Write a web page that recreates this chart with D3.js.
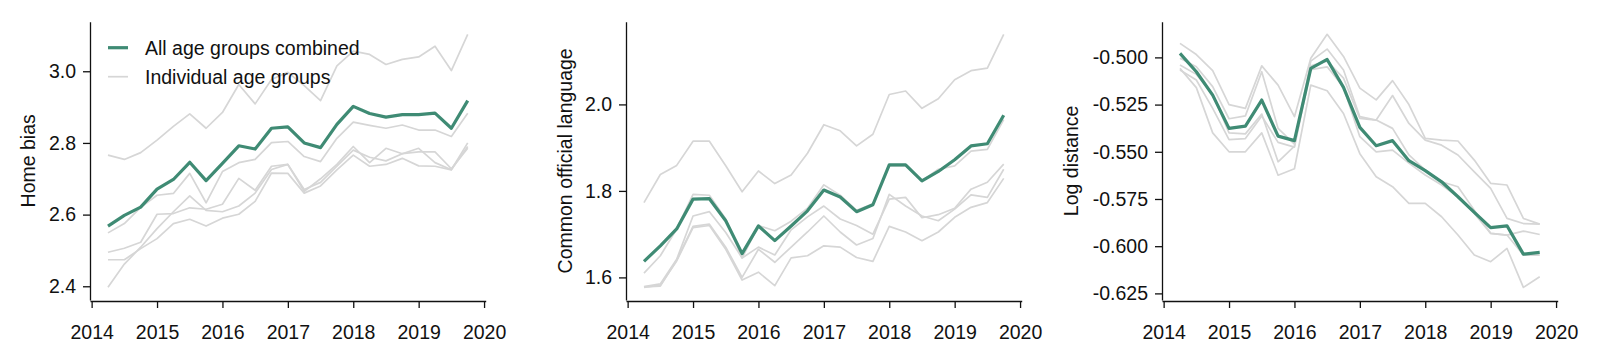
<!DOCTYPE html>
<html>
<head>
<meta charset="utf-8">
<script src="https://cdn.jsdelivr.net/npm/d3@7"></script>
<style>
    body { margin: 0; background: #fff; }
    svg { display: block; font-family: "Liberation Sans", Arial, Helvetica, sans-serif; }
    .axis text { font-size: 19.5px; fill: #111; }
    .axis path, .axis line { stroke: #111; stroke-width: 1.3; }
    .axis-label { font-size: 19.5px; fill: #111; }
    .legend text { font-size: 19.5px; fill: #111; }
</style>
</head>
<body>
<svg id="chart" width="1600" height="364"></svg>
<script>
(function () {
    'use strict';

    // Quarterly observations
    const quarters = [2014.25, 2014.5, 2014.75, 2015, 2015.25, 2015.5, 2015.75, 2016,
        2016.25, 2016.5, 2016.75, 2017, 2017.25, 2017.5, 2017.75, 2018,
        2018.25, 2018.5, 2018.75, 2019, 2019.25, 2019.5, 2019.75];
    const xTicks = [2014, 2015, 2016, 2017, 2018, 2019, 2020];

    // Panel 1: home bias
    const homeBiasAll = [2.568, 2.598, 2.621, 2.671, 2.698, 2.746, 2.695, 2.743, 2.792, 2.783, 2.841, 2.845,
        2.800, 2.787, 2.852, 2.902, 2.882, 2.872, 2.879, 2.879, 2.883, 2.841, 2.918];
    const homeBiasGroups = [
        [2.766, 2.754, 2.773, 2.808, 2.846, 2.881, 2.841, 2.885, 2.963, 2.909, 2.977, 2.997,
            2.960, 2.918, 3.015, 3.056, 3.047, 3.019, 3.033, 3.040, 3.070, 3.002, 3.103],
        [2.549, 2.575, 2.620, 2.654, 2.659, 2.715, 2.633, 2.720, 2.745, 2.754, 2.801, 2.804,
            2.762, 2.748, 2.813, 2.858, 2.849, 2.841, 2.850, 2.836, 2.836, 2.818, 2.883],
        [2.495, 2.506, 2.523, 2.601, 2.603, 2.619, 2.615, 2.629, 2.701, 2.668, 2.735, 2.740,
            2.665, 2.700, 2.740, 2.790, 2.745, 2.785, 2.770, 2.785, 2.745, 2.725, 2.800],
        [2.474, 2.474, 2.505, 2.533, 2.575, 2.587, 2.568, 2.590, 2.601, 2.637, 2.716, 2.715,
            2.660, 2.680, 2.725, 2.766, 2.735, 2.740, 2.757, 2.736, 2.735, 2.725, 2.790],
        [2.397, 2.462, 2.509, 2.561, 2.608, 2.652, 2.612, 2.608, 2.624, 2.660, 2.726, 2.740,
            2.670, 2.690, 2.735, 2.780, 2.760, 2.750, 2.770, 2.775, 2.775, 2.728, 2.785]
    ];
    const homeBiasTicks = [2.4, 2.6, 2.8, 3.0];

    // Panel 2: common official language
    const languageAll = [1.637, 1.673, 1.712, 1.781, 1.782, 1.731, 1.655, 1.719, 1.685, 1.719, 1.754, 1.802,
        1.786, 1.752, 1.768, 1.860, 1.860, 1.823, 1.845, 1.872, 1.904, 1.909, 1.975];
    const languageGroups = [
        [1.773, 1.838, 1.859, 1.915, 1.915, 1.858, 1.798, 1.846, 1.817, 1.837, 1.887, 1.953,
            1.939, 1.904, 1.931, 2.023, 2.031, 1.991, 2.013, 2.057, 2.078, 2.084, 2.162],
        [1.610, 1.650, 1.712, 1.792, 1.790, 1.735, 1.645, 1.720, 1.708, 1.730, 1.760, 1.814,
            1.790, 1.755, 1.770, 1.858, 1.858, 1.823, 1.850, 1.858, 1.892, 1.896, 1.965],
        [1.579, 1.585, 1.642, 1.742, 1.752, 1.704, 1.645, 1.670, 1.652, 1.710, 1.740, 1.765,
            1.735, 1.720, 1.700, 1.781, 1.785, 1.738, 1.745, 1.760, 1.804, 1.820, 1.862],
        [1.578, 1.580, 1.640, 1.718, 1.723, 1.670, 1.600, 1.665, 1.635, 1.670, 1.705, 1.742,
            1.705, 1.675, 1.690, 1.792, 1.765, 1.742, 1.731, 1.758, 1.791, 1.785, 1.850],
        [1.577, 1.582, 1.638, 1.715, 1.720, 1.665, 1.594, 1.612, 1.581, 1.645, 1.650, 1.673,
            1.670, 1.646, 1.637, 1.718, 1.705, 1.685, 1.705, 1.739, 1.762, 1.773, 1.829]
    ];
    const languageTicks = [1.6, 1.8, 2.0];

    // Panel 3: log distance
    const distanceAll = [-0.4979, -0.5076, -0.5200, -0.5376, -0.5364, -0.5226, -0.5417, -0.5441,
        -0.5058, -0.5011, -0.5159, -0.5371, -0.5468, -0.5441, -0.5547, -0.5600,
        -0.5659, -0.5738, -0.5821, -0.5902, -0.5892, -0.6042, -0.6033];
    const distanceGroups = [
        [-0.4926, -0.4985, -0.5070, -0.5250, -0.5270, -0.5045, -0.5147, -0.5314, -0.5005, -0.4878, -0.4995, -0.5163,
            -0.5225, -0.5123, -0.5250, -0.5429, -0.5438, -0.5443, -0.5544, -0.5667, -0.5676, -0.5853, -0.5883],
        [-0.5005, -0.5050, -0.5155, -0.5325, -0.5310, -0.5076, -0.5376, -0.5460, -0.5020, -0.4956, -0.5067, -0.5314,
            -0.5332, -0.5202, -0.5350, -0.5438, -0.5465, -0.5517, -0.5606, -0.5694, -0.5853, -0.5880, -0.5883],
        [-0.5040, -0.5090, -0.5195, -0.5400, -0.5405, -0.5300, -0.5553, -0.5470, -0.5045, -0.5020, -0.5110, -0.5323,
            -0.5332, -0.5376, -0.5517, -0.5597, -0.5659, -0.5685, -0.5809, -0.5932, -0.5941, -0.5920, -0.5938],
        [-0.5067, -0.5120, -0.5270, -0.5436, -0.5430, -0.5310, -0.5450, -0.5475, -0.5065, -0.5050, -0.5158, -0.5420,
            -0.5500, -0.5491, -0.5560, -0.5623, -0.5676, -0.5738, -0.5826, -0.5932, -0.5941, -0.6047, -0.6047],
        [-0.5058, -0.5160, -0.5400, -0.5500, -0.5500, -0.5400, -0.5624, -0.5590, -0.5147, -0.5177, -0.5297, -0.5510,
            -0.5632, -0.5685, -0.5773, -0.5773, -0.5844, -0.5941, -0.6047, -0.6082, -0.6012, -0.6218, -0.6162]
    ];
    const distanceTicks = [-0.625, -0.600, -0.575, -0.550, -0.525, -0.500];

    const legendLabels = ['All age groups combined', 'Individual age groups'];

    // Styling / layout
    const COLORS = { all: '#3f8b74', group: '#d6d6d6' };
    const PLOT = { width: 395.7, top: 21.7, bottom: 300 };
    const minus = s => s.replace('\u2212', '-');

    const panels = [
        { label: 'Home bias', all: homeBiasAll, groups: homeBiasGroups, ticks: homeBiasTicks,
            fmt: d3.format('.1f'), left: 90, labelX: -62, legend: true },
        { label: 'Common official language', all: languageAll, groups: languageGroups, ticks: languageTicks,
            fmt: d3.format('.1f'), left: 626, labelX: -61, legend: false },
        { label: 'Log distance', all: distanceAll, groups: distanceGroups, ticks: distanceTicks,
            fmt: d => minus(d3.format('.3f')(d)), left: 1162, labelX: -91, legend: false }
    ];

    const svg = d3.select('#chart');

    panels.forEach(p => {
        const g = svg.append('g').attr('transform', `translate(${p.left},0)`);

        // Scales with matplotlib-like 5% margins
        const xPad = (quarters[quarters.length - 1] - quarters[0]) * 0.05;
        const x = d3.scaleLinear()
            .domain([quarters[0] - xPad, quarters[quarters.length - 1] + xPad])
            .range([0, PLOT.width]);

        const [lo, hi] = d3.extent([p.all, ...p.groups].flat());
        const yPad = (hi - lo) * 0.05;
        const y = d3.scaleLinear()
            .domain([lo - yPad, hi + yPad])
            .range([PLOT.bottom, PLOT.top]);

        const line = d3.line()
            .x((d, i) => x(quarters[i]))
            .y(d => y(d));

        // Individual age groups
        g.append('g')
            .selectAll('path')
            .data(p.groups)
            .enter()
            .append('path')
            .attr('d', line)
            .attr('fill', 'none')
            .attr('stroke', COLORS.group)
            .attr('stroke-width', 1.7)
            .attr('stroke-linejoin', 'round');

        // All groups combined
        g.append('path')
            .datum(p.all)
            .attr('d', line)
            .attr('fill', 'none')
            .attr('stroke', COLORS.all)
            .attr('stroke-width', 3.2)
            .attr('stroke-linejoin', 'round');

        // Axes
        g.append('g')
            .attr('class', 'axis')
            .attr('transform', `translate(0,${PLOT.bottom + 1})`)
            .call(d3.axisBottom(x).tickValues(xTicks).tickFormat(d3.format('d'))
                .tickSize(7).tickSizeOuter(0).tickPadding(17));

        g.append('g')
            .attr('class', 'axis')
            .call(d3.axisLeft(y).tickValues(p.ticks).tickFormat(p.fmt)
                .tickSize(7).tickSizeOuter(0).tickPadding(7));

        g.selectAll('.axis text').attr('font-family', null);

        // Y label
        g.append('text')
            .attr('class', 'axis-label')
            .attr('transform', 'rotate(-90)')
            .attr('x', -(PLOT.top + PLOT.bottom) / 2)
            .attr('y', p.labelX)
            .attr('dy', '0.35em')
            .attr('text-anchor', 'middle')
            .text(p.label);

        // Legend
        if (p.legend) {
            const lg = g.append('g').attr('class', 'legend');
            const items = [
                { text: legendLabels[0], color: COLORS.all, width: 3.2 },
                { text: legendLabels[1], color: COLORS.group, width: 1.7 }
            ];
            items.forEach((it, i) => {
                const yy = 47.7 + i * 29;
                lg.append('line')
                    .attr('x1', 18).attr('x2', 38)
                    .attr('y1', yy).attr('y2', yy)
                    .attr('stroke', it.color)
                    .attr('stroke-width', it.width);
                lg.append('text')
                    .attr('x', 55).attr('y', yy)
                    .attr('dy', '0.35em')
                    .text(it.text);
            });
        }
    });
})();
</script>
</body>
</html>
